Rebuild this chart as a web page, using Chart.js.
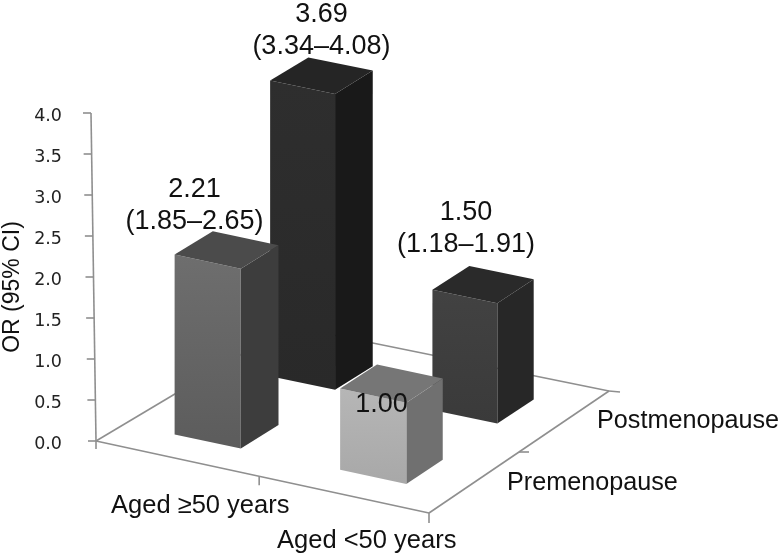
<!DOCTYPE html>
<html>
<head>
<meta charset="utf-8">
<title>OR by age and menopause</title>
<script src="https://cdn.jsdelivr.net/npm/chart.js@4"></script>
<style>
  html, body { margin: 0; padding: 0; background: #fff; }
  #wrap { width: 782px; height: 557px; }
</style>
</head>
<body>
<div id="wrap"><canvas id="chart"></canvas></div>
<script>
// data
const ageGroups = ['Aged ≥50 years', 'Aged <50 years'];
const premenopause = [2.21, 1.00];
const postmenopause = [3.69, 1.50];
const premenopauseCI = ['(1.85–2.65)', ''];
const postmenopauseCI = ['(3.34–4.08)', '(1.18–1.91)'];
const yTicks = [0, 0.5, 1, 1.5, 2, 2.5, 3, 3.5, 4];

const labelFont = '"Liberation Sans", Arial, sans-serif';

// box face colours, [front top, front bottom, top, side]
const premenoFaces = [
    ['#6e6e6e', '#5c5c5c', '#4b4b4b', '#3d3d3d'],
    ['#b6b6b6', '#a8a8a8', '#767676', '#707070']
];
const postmenoFaces = [
    ['#2e2e2e', '#292929', '#252525', '#191919'],
    ['#424242', '#3a3a3a', '#2a2a2a', '#272727']
];
// value label offset from the top centre of each box, [dx, dy]
const premenoLabelShift = [[-32, -60], [-10, 21]];
const postmenoLabelShift = [[0, -61], [-17, -72]];

// floor corners relative to the origin of the value axis
const floorFront = { x: 333, y: 72 };
const floorSide = { x: 193, y: -115 };
const floorFar = { x: 513, y: -50 };
const boxHalf = 0.10;

function origin(chart) {
    return { x: chart.chartArea.left + 3, y: chart.scales.y.getPixelForValue(0) };
}

// floor coordinates (u along age, v along menopause, both 0..1) to canvas
function project(chart, u, v) {
    const o = origin(chart);
    return {
        x: o.x + floorFront.x * u * (1 - v) + floorSide.x * (1 - u) * v + floorFar.x * u * v,
        y: o.y + floorFront.y * u * (1 - v) + floorSide.y * (1 - u) * v + floorFar.y * u * v
    };
}

function poly(ctx, pts, fill) {
    ctx.beginPath();
    pts.forEach((p, i) => i ? ctx.lineTo(p.x, p.y) : ctx.moveTo(p.x, p.y));
    ctx.closePath();
    ctx.fillStyle = fill;
    ctx.fill();
}

function line(ctx, a, b) {
    ctx.beginPath();
    ctx.moveTo(a.x, a.y);
    ctx.lineTo(b.x, b.y);
    ctx.stroke();
}

function boxGeometry(chart, col, row, value) {
    const y = chart.scales.y;
    const u = (col + 0.5) / ageGroups.length;
    const v = (row + 0.5) / 2;
    // things further back come out slightly shorter
    const h = (y.getPixelForValue(0) - y.getPixelForValue(value)) * (1 - 0.03 * v);
    const fl = project(chart, u - boxHalf, v - boxHalf);
    const fr = project(chart, u + boxHalf, v - boxHalf);
    const br = project(chart, u + boxHalf, v + boxHalf);
    const bl = project(chart, u - boxHalf, v + boxHalf);
    const up = p => ({ x: p.x, y: p.y - h });
    return { fl, fr, br, bl, tfl: up(fl), tfr: up(fr), tbr: up(br), tbl: up(bl) };
}

function drawBox(ctx, b, faces) {
    const grad = ctx.createLinearGradient(0, b.tfl.y, 0, b.fr.y);
    grad.addColorStop(0, faces[0]);
    grad.addColorStop(1, faces[1]);
    poly(ctx, [b.tfr, b.tbr, b.br, b.fr], faces[3]);
    poly(ctx, [b.tfl, b.tfr, b.fr, b.fl], grad);
    poly(ctx, [b.tfl, b.tbl, b.tbr, b.tfr], faces[2]);
}

const boxPlugin = {
    id: 'boxes',
    beforeDatasetsDraw(chart) {
        const ctx = chart.ctx;
        const y = chart.scales.y;
        const o = origin(chart);
        ctx.save();
        ctx.strokeStyle = '#8f8f8f';
        ctx.lineWidth = 1.6;

        // value axis leans a little to the left going up
        const axisX = val => o.x - val * 1.25;
        line(ctx, { x: axisX(0), y: o.y }, { x: axisX(4), y: y.getPixelForValue(4) });
        yTicks.forEach(t => {
            const py = y.getPixelForValue(t);
            line(ctx, { x: axisX(t) - 8, y: py }, { x: axisX(t), y: py });
        });

        // floor
        const f = project(chart, 1, 0);
        const r = project(chart, 1, 1);
        const b = project(chart, 0, 1);
        line(ctx, o, f);
        line(ctx, f, r);
        line(ctx, r, b);
        line(ctx, b, o);

        // tick marks under and beside the floor
        line(ctx, o, { x: o.x, y: o.y + 8 });
        const mid = project(chart, 0.49, 0);
        line(ctx, mid, { x: mid.x, y: mid.y + 9 });
        line(ctx, f, { x: f.x, y: f.y + 10 });
        const side = project(chart, 1, 0.5);
        line(ctx, side, { x: side.x + 10, y: side.y });
        line(ctx, r, { x: r.x + 11, y: r.y + 1 });
        ctx.restore();
    },
    afterDatasetDraw(chart, args) {
        const ctx = chart.ctx;
        const ds = chart.data.datasets[args.index];
        ctx.save();
        ds.data.forEach((value, col) => {
            drawBox(ctx, boxGeometry(chart, col, ds.row, value), ds.faces[col]);
        });
        ctx.restore();
    },
    afterDatasetsDraw(chart) {
        const ctx = chart.ctx;
        ctx.save();
        ctx.fillStyle = '#111';
        ctx.textBaseline = 'middle';

        // value labels with CI below
        ctx.textAlign = 'center';
        chart.data.datasets.forEach(ds => {
            ds.data.forEach((value, col) => {
                const b = boxGeometry(chart, col, ds.row, value);
                const cx = (b.tfl.x + b.tbr.x) / 2 + ds.labelShift[col][0];
                const cy = (b.tfl.y + b.tbr.y) / 2 + ds.labelShift[col][1];
                ctx.font = '27px ' + labelFont;
                ctx.fillText(value.toFixed(2), cx, cy);
                if (ds.ci[col]) ctx.fillText(ds.ci[col], cx, cy + 32);
            });
        });

        // category labels
        ctx.font = '25.5px ' + labelFont;
        const a0 = project(chart, 0.25, 0);
        const a1 = project(chart, 0.75, 0);
        ctx.fillText(ageGroups[0], a0.x + 21, a0.y + 47);
        ctx.fillText(ageGroups[1], a1.x + 21, a1.y + 46);
        ctx.font = '25.2px ' + labelFont;
        ctx.textAlign = 'left';
        const p0 = project(chart, 1, 0.25);
        const p1 = project(chart, 1, 0.75);
        ctx.fillText(chart.data.datasets[0].label, p0.x + 33, p0.y + 1);
        ctx.fillText(chart.data.datasets[1].label, p1.x + 33, p1.y + 0);

        // axis title
        ctx.font = '23px ' + labelFont;
        ctx.textAlign = 'center';
        ctx.translate(13, 287);
        ctx.rotate(-Math.PI / 2);
        ctx.fillText('OR (95% CI)', 0, 0);
        ctx.restore();
    }
};

new Chart(document.getElementById('chart'), {
    type: 'bar',
    data: {
        labels: ageGroups,
        datasets: [
            {
                label: 'Premenopause',
                data: premenopause,
                row: 0,
                faces: premenoFaces,
                ci: premenopauseCI,
                labelShift: premenoLabelShift,
                backgroundColor: 'transparent'
            },
            {
                label: 'Postmenopause',
                data: postmenopause,
                row: 1,
                faces: postmenoFaces,
                ci: postmenopauseCI,
                labelShift: postmenoLabelShift,
                backgroundColor: 'transparent'
            }
        ]
    },
    options: {
        responsive: true,
        maintainAspectRatio: false,
        animation: false,
        layout: { padding: { top: 113, bottom: 116, left: 0, right: 0 } },
        plugins: {
            legend: { display: false },
            tooltip: { enabled: false }
        },
        scales: {
            x: { display: false },
            y: {
                min: 0,
                max: 4,
                afterFit(scale) { scale.width = 93; },
                afterBuildTicks(scale) { scale.ticks = yTicks.map(value => ({ value })); },
                grid: { display: false },
                border: { display: false },
                ticks: {
                    color: '#222',
                    padding: 23,
                    labelOffset: 3,
                    font: { family: '"DejaVu Sans", sans-serif', size: 17.5 },
                    callback: value => value.toFixed(1)
                }
            }
        }
    },
    plugins: [boxPlugin]
});
</script>
</body>
</html>
